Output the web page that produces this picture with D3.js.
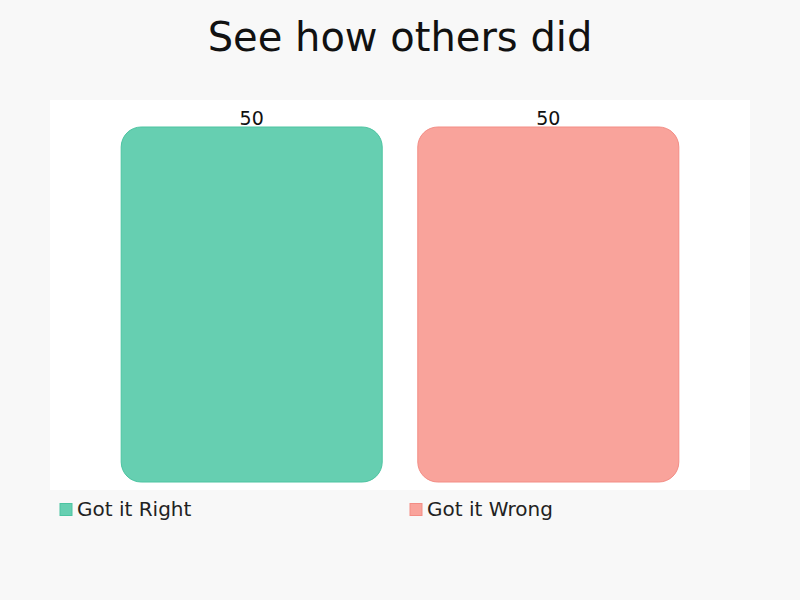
<!DOCTYPE html>
<html><head><meta charset="utf-8">
<script src="https://cdn.jsdelivr.net/npm/d3@7"></script>
<style>body{margin:0;background:#f8f8f8;font-family:"DejaVu Sans",sans-serif;}</style>
</head><body><svg id="c" width="800" height="600"></svg>
<script>
const categories = ["Got it Right", "Got it Wrong"];
const values = [50, 50];
const fills = ["#66cfb1", "#f9a39b"];
const strokes = ["#4cc4a1", "#f38d85"];
const title = "See how others did";

const svg = d3.select("#c");
svg.append("rect").attr("width",800).attr("height",600).attr("fill","#f8f8f8");
svg.append("text").attr("x",400).attr("y",51).attr("text-anchor","middle")
  .attr("font-size",40).attr("fill","#111").text(title);
svg.append("rect").attr("x",50).attr("y",100).attr("width",700).attr("height",390).attr("fill","#fff");

const x = d3.scaleBand().domain(categories).range([50,750]).paddingInner(0.12).paddingOuter(0.24);
const y = d3.scaleLinear().domain([0,50]).range([482,127]);

const g = svg.append("g");
categories.forEach((c,i)=>{
  g.append("rect").attr("x",x(c)).attr("y",y(values[i])).attr("width",x.bandwidth())
   .attr("height",y(0)-y(values[i])).attr("rx",20).attr("ry",20)
   .attr("fill",fills[i]).attr("stroke",strokes[i]).attr("stroke-width",1);
  g.append("text").attr("x",x(c)+x.bandwidth()/2).attr("y",y(values[i])-2.5)
   .attr("text-anchor","middle").attr("font-size",19).attr("fill","#111").text(values[i]);
});

const legX = [60, 410];
categories.forEach((c,i)=>{
  svg.append("rect").attr("x",legX[i]).attr("y",503.5).attr("width",12).attr("height",12)
    .attr("fill",fills[i]).attr("stroke",strokes[i]).attr("stroke-width",1);
  svg.append("text").attr("x",legX[i]+17).attr("y",516).attr("font-size",20).attr("fill","#222").text(c);
});
</script></body></html>
